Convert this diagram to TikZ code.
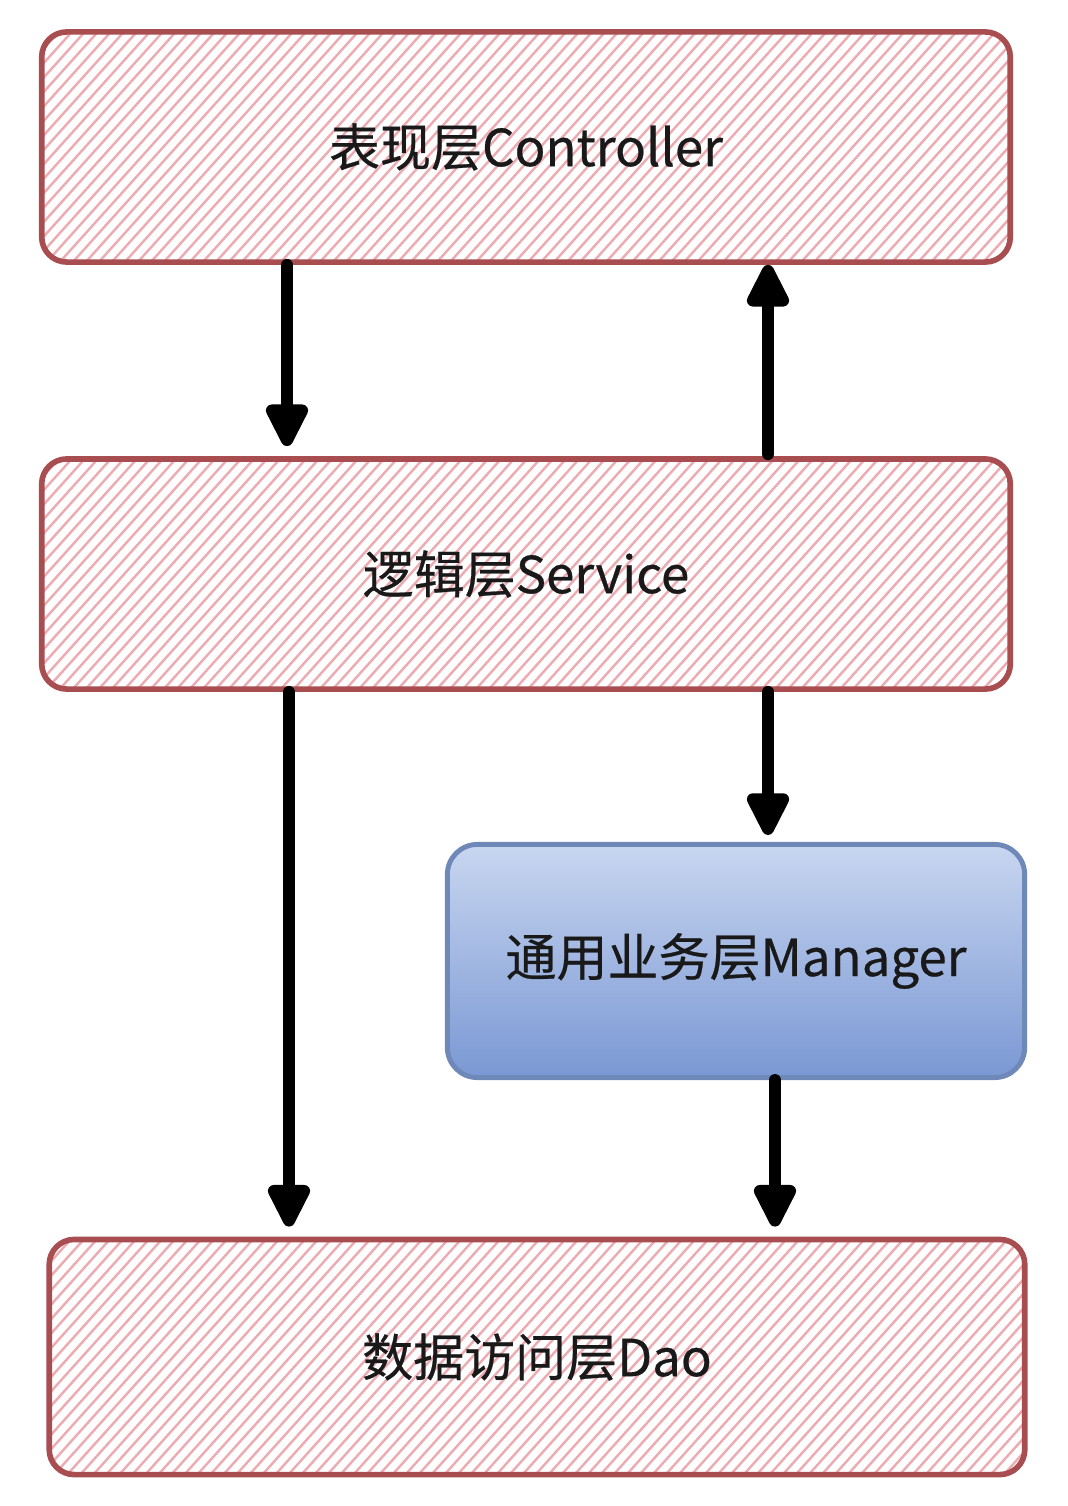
\documentclass[tikz,border=0pt]{standalone}
\usepackage{fontspec}
\setmainfont{Noto Sans CJK SC}[FakeBold=0.5]
\usetikzlibrary{arrows.meta,calc}
\definecolor{boxred}{RGB}{168,78,80}
\definecolor{hatchc}{RGB}{236,172,178}
\definecolor{mgrtop}{RGB}{200,214,240}
\definecolor{mgrbot}{RGB}{122,152,212}
\definecolor{mgrline}{RGB}{110,136,184}
\definecolor{txt}{RGB}{25,25,25}
\begin{document}
\begin{tikzpicture}[x=0.01cm,y=-0.01cm,
  hatchbox/.style={draw=boxred, line width=1.6pt, rounded corners=0.25cm,
    minimum width=9.68cm, minimum height=2.3cm, inner sep=0pt,
    font=\fontsize{14.5pt}{17pt}\selectfont, text=txt,
    path picture={
      \foreach \k in {0,...,100}
        \draw[hatchc, line width=0.7pt]
          ([xshift=\k*0.13cm-3.2cm]path picture bounding box.south west) -- ++(2.7cm,3cm);
    }},
  mgrbox/.style={draw=mgrline, line width=1.4pt, rounded corners=0.3cm,
    top color=mgrtop, bottom color=mgrbot,
    minimum width=5.77cm, minimum height=2.33cm, inner sep=0pt,
    font=\fontsize{14.5pt}{17pt}\selectfont, text=txt},
  arr/.style={line width=3.4pt, line cap=round, line join=round,
    -{Triangle[width=0.46cm,length=0.5cm,round]}}
]
\useasboundingbox (0,0) rectangle (1068,1506);

\node[hatchbox] (ctrl) at (526,147) {表现层Controller};
\node[hatchbox] (svc)  at (526,574) {逻辑层Service};
\node[mgrbox]   (mgr)  at (736,961) {通用业务层Manager};
\node[hatchbox, minimum width=9.75cm, minimum height=2.35cm] (dao) at (537,1357) {数据访问层Dao};

\coordinate (xl1) at (287,0);
\coordinate (xr1) at (768,0);
\coordinate (xl2) at (289,0);
\coordinate (xr2) at (775,0);

\draw[arr, shorten >=0.1cm] (ctrl.south -| xl1) -- (svc.north -| xl1);
\draw[arr, shorten <=0.02cm] (svc.north -| xr1) -- (ctrl.south -| xr1);
\draw[arr, shorten >=0.1cm] (svc.south -| xl2) -- (dao.north -| xl2);
\draw[arr, shorten >=0.07cm] (svc.south -| xr1) -- (mgr.north -| xr1);
\draw[arr, shorten >=0.1cm] (mgr.south -| xr2) -- (dao.north -| xr2);
\end{tikzpicture}
\end{document}
